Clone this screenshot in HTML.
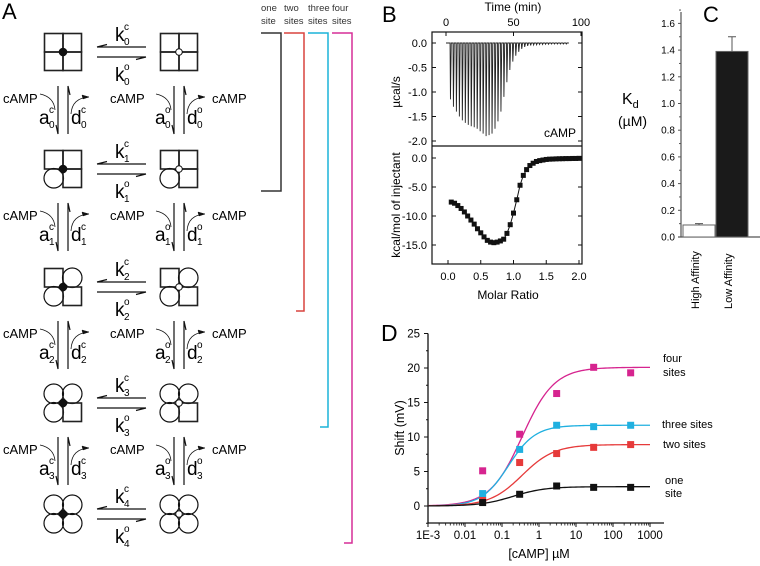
<!DOCTYPE html>
<html><head><meta charset="utf-8"><style>
html,body{margin:0;padding:0;background:#fff;}
svg{display:block;font-family:"Liberation Sans",sans-serif;}
</style></head><body>
<svg id="fig" width="760" height="566" viewBox="0 0 760 566">
<g id="A"></g>
<g id="B"></g>
<g id="C"></g>
<g id="D"></g>
</svg>
<script>
// ---------- data ----------
const itcPeakDepths = [-1.15,-1.3,-1.4,-1.5,-1.58,-1.63,-1.67,-1.7,-1.72,-1.75,-1.8,-1.85,-1.9,-1.88,-1.85,-1.75,-1.6,-1.4,-1.1,-0.8,-0.55,-0.38,-0.26,-0.18,-0.12,-0.08,-0.06,-0.05,-0.04,-0.035,-0.03,-0.03,-0.025,-0.025,-0.02,-0.02,-0.02,-0.02,-0.02,-0.02];
const itcPeakTimes = [3,5.2,7.4,9.6,11.8,14,16.2,18.4,20.6,22.8,25,27.2,29.4,31.6,33.8,36,38.2,40.4,42.6,44.8,47,49.2,51.4,53.6,55.8,58,60.2,62.4,64.6,66.8,69,71.2,73.4,75.6,77.8,80,82.2,84.4,86.6,88.8];
const itcRatio = [0.05,0.1,0.15,0.2,0.25,0.3,0.35,0.4,0.45,0.5,0.55,0.6,0.65,0.7,0.75,0.8,0.85,0.9,0.95,1.0,1.05,1.1,1.15,1.2,1.25,1.3,1.35,1.4,1.45,1.5,1.55,1.6,1.65,1.7,1.75,1.8,1.85,1.9,1.95,2.0];
const itcHeat = [-7.6,-7.8,-8.2,-8.7,-9.3,-10.0,-10.7,-11.4,-12.2,-12.9,-13.6,-14.2,-14.5,-14.6,-14.5,-14.3,-14.0,-13.0,-11.5,-9.5,-7.2,-4.7,-3.0,-2.0,-1.3,-0.9,-0.6,-0.45,-0.35,-0.25,-0.2,-0.18,-0.15,-0.13,-0.12,-0.1,-0.1,-0.08,-0.08,-0.06];
const kdCategories = ["High Affinity","Low Affinity"];
const kdValues = [0.09,1.39];
const kdErrors = [0.01,0.11];
const kdTicks = [0.0,0.2,0.4,0.6,0.8,1.0,1.2,1.4,1.6];
const doseConc = [0.03,0.3,3,30,300];
const seriesNames = ["four sites","three sites","two sites","one site"];
const fourSites = [5.1,10.4,16.3,20.1,19.3];
const threeSites = [1.8,8.2,11.7,11.5,11.7];
const twoSites = [0.8,6.3,7.6,8.5,8.9];
const oneSite = [0.5,1.7,2.9,2.7,2.7];
const fitMax = [20.1,11.7,8.9,2.8];
const fitEC50 = [0.35,0.15,0.35,0.2];
const fitHill = [1.0,1.2,1.0,1.0];
const seriesColors = ["#d6248f","#20b0e0","#e63a3a","#111"];
const dYTicks = [0,5,10,15,20,25];
const dXTickLabels = ["1E-3","0.01","0.1","1","10","100","1000"];

const NS="http://www.w3.org/2000/svg";
function el(parent,tag,attrs,text){const e=document.createElementNS(NS,tag);for(const k in attrs)e.setAttribute(k,attrs[k]);if(text!==undefined)e.textContent=text;parent.appendChild(e);return e;}

// ---------- Panel A ----------
const A=document.getElementById('A');
let t=el(A,'text',{x:2,y:19,'font-size':22},'A');


const rowsY=[52,169,287,403,514];
const pats=[[0,0,0,0],[0,0,1,0],[0,1,1,0],[1,1,1,0],[1,1,1,1]];
function state(cx,cy,pat,open,idx){
  const g=el(A,'g',{});
  
  
  const s=18.5;
  const q=[[-1,-1],[0,-1],[-1,0],[0,0]];
  q.forEach((d,i)=>{
    const x=cx+d[0]*s,y=cy+d[1]*s;
    if(pat[i]) el(g,'circle',{cx:x+s/2,cy:y+s/2,r:s/2+0.5,fill:'none',stroke:'#111','stroke-width':1.2});
    else el(g,'rect',{x:x,y:y,width:s,height:s,fill:'none',stroke:'#222','stroke-width':1.6});
  });
  el(g,'circle',{cx:cx,cy:cy,r:open?3.3:3.8,fill:open?'#fff':'#111',stroke:'#111','stroke-width':1});
}
function label(x,y,ch,sup,sub,name,w){
  const g=el(A,'g',{});
  
  
  el(g,'text',{x:x,y:y,'font-size':19},ch);
  el(g,'text',{x:x+w,y:y-11,'font-size':10},sup);
  el(g,'text',{x:x+w,y:y+4,'font-size':10},sub);
}
rowsY.forEach((cy,i)=>{
  state(63,cy,pats[i],false,i);
  state(179,cy,pats[i],true,i);
  const g=el(A,'g',{stroke:'#111','stroke-width':1.2,fill:'none'});
  
  
  el(g,'path',{d:`M97 ${cy-5}H146 M97 ${cy-5}l10 -2.5`});
  el(g,'path',{d:`M97 ${cy+5}H146 M146 ${cy+5}l-10 2.5`});
  label(115,cy-11,'k','c',i,'k-closed-'+i,9);
  label(115,cy+29,'k','o',i,'k-open-'+i,9);
  if(i<4){
    const gy=cy+58;
    [63,179].forEach((cx,j)=>{
      const vg=el(A,'g',{stroke:'#111','stroke-width':1.2,fill:'none'});
      
      
      el(vg,'path',{d:`M${cx-5} ${gy-24}V${gy+24} l-2 -9`});
      el(vg,'path',{d:`M${cx+5} ${gy+24}V${gy-24} l2 9`});
      el(vg,'path',{d:`M${cx-23} ${gy-16} Q${cx-9} ${gy-13} ${cx-8} ${gy}`,'stroke-width':0.8});
      el(vg,'path',{d:`M${cx+8} ${gy+4} Q${cx+9} ${gy-12} ${cx+26} ${gy-13}`,'stroke-width':0.8});
      el(vg,'path',{d:`M${cx+26} ${gy-13} l-7 -2 l1 4z`,fill:'#111','stroke-width':0.5});
      label(cx-24,gy+14,'a',j?'o':'c',i,'assoc-rate-'+(j?'open-':'closed-')+i,10);
      label(cx+8,gy+14,'d',j?'o':'c',i,'dissoc-rate-'+(j?'open-':'closed-')+i,10);
    });
    [[3,'camp-left'],[110,'camp-middle'],[212,'camp-right']].forEach(p=>{
      const c=el(A,'text',{x:p[0],y:gy-7,'font-size':13},'cAMP');
      
      
    });
  }
});
const br=[{x:261,x2:281,top:33,bot:191,c:'#333',l1:'one',l2:'site'},{x:284,x2:304,top:33,bot:311,c:'#d9433f',l1:'two',l2:'sites'},{x:308,x2:328,top:33,bot:427,c:'#1bb3d8',l1:'three',l2:'sites'},{x:332,x2:352,top:33,bot:543,c:'#d62e97',l1:'four',l2:'sites'}];
br.forEach((b,i)=>{
  const g=el(A,'g',{});
  
  
  el(g,'path',{d:i==0?`M${b.x} ${b.top}H${b.x2}V${b.bot}H${b.x}`:`M${b.x} ${b.top}H${b.x2}V${b.bot}H${b.x2-8}`,stroke:b.c,'stroke-width':1.5,fill:'none'});
  el(g,'text',{x:b.x,y:11,'font-size':9.5,fill:'#333'},b.l1);
  el(g,'text',{x:b.x,y:24,'font-size':9.5,fill:'#333'},b.l2);
});

// ---------- Panel B ----------
const B=document.getElementById('B');
const bx0=432,bx1=582,tTop=32,tMid=146,tBot=264;
const tx=v=>446+v*1.35, ty=v=>43-v*49;
const mx=v=>448+v*65.5, my=v=>158-v*5.8;
t=el(B,'text',{x:382,y:22,'font-size':22},'B');

t=el(B,'text',{x:513,y:11,'font-size':12,'text-anchor':'middle'},'Time (min)');

[0,50,100].forEach(v=>{el(B,'text',{x:tx(v),y:26,'font-size':11,'text-anchor':'middle'},v);el(B,'line',{x1:tx(v),x2:tx(v),y1:tTop,y2:tTop+4,stroke:'#111'});});
const frame=el(B,'rect',{x:bx0,y:tTop,width:bx1-bx0,height:tBot-tTop,fill:'none',stroke:'#111','stroke-width':1.2});

el(B,'line',{x1:bx0,x2:bx1,y1:tMid,y2:tMid,stroke:'#111','stroke-width':1.2});
[0,-0.5,-1,-1.5,-2].forEach(v=>{el(B,'text',{x:bx0-5,y:ty(v)+4,'font-size':11,'text-anchor':'end'},v.toFixed(1));el(B,'line',{x1:bx0,x2:bx0+4,y1:ty(v),y2:ty(v),stroke:'#111'});el(B,'line',{x1:bx1,x2:bx1-4,y1:ty(v),y2:ty(v),stroke:'#111'});});
[0,-5,-10,-15].forEach(v=>{el(B,'text',{x:bx0-5,y:my(v)+4,'font-size':11,'text-anchor':'end'},v.toFixed(1));el(B,'line',{x1:bx0,x2:bx0+4,y1:my(v),y2:my(v),stroke:'#111'});el(B,'line',{x1:bx1,x2:bx1-4,y1:my(v),y2:my(v),stroke:'#111'});});
[0,0.5,1,1.5,2].forEach(v=>{el(B,'text',{x:mx(v),y:tBot+16,'font-size':11,'text-anchor':'middle'},v.toFixed(1));el(B,'line',{x1:mx(v),x2:mx(v),y1:tBot,y2:tBot-4,stroke:'#111'});});
t=el(B,'text',{x:508,y:299,'font-size':12,'text-anchor':'middle'},'Molar Ratio');

t=el(B,'text',{x:0,y:0,'font-size':12,'text-anchor':'middle',transform:`translate(400,${ty(-1)}) rotate(-90)`},'µcal/s');

t=el(B,'text',{x:0,y:0,'font-size':12,'text-anchor':'middle',transform:`translate(400,205) rotate(-90)`},'kcal/mol of injectant');

t=el(B,'text',{x:576,y:137,'font-size':12,'text-anchor':'end'},'cAMP');

let d=`M${tx(0)} ${ty(0)}`;
itcPeakTimes.forEach((tm,i)=>{d+=`L${tx(tm)} ${ty(0)}L${tx(tm)+0.4} ${ty(itcPeakDepths[i])}L${tx(tm)+1.2} ${ty(0)}`;});
d+=`L${tx(91)} ${ty(0)}`;
t=el(B,'path',{d:d,fill:'none',stroke:'#222','stroke-width':0.9});

t=el(B,'polyline',{points:itcRatio.map((r,i)=>mx(r)+','+my(itcHeat[i])).join(' '),fill:'none',stroke:'#111','stroke-width':1});

itcRatio.forEach((r,i)=>{
  const p=el(B,'rect',{x:mx(r)-2.5,y:my(itcHeat[i])-2.5,width:5,height:5,fill:'#111'});
  
  
});

// ---------- Panel C ----------
const C=document.getElementById('C');
const cx0=681, cy=v=>237-v*133.5;
t=el(C,'text',{x:703,y:22,'font-size':22},'C');

el(C,'line',{x1:cx0,x2:cx0,y1:12,y2:237,stroke:'#555','stroke-width':1.2});
el(C,'line',{x1:cx0-3,x2:760,y1:237,y2:237,stroke:'#555','stroke-width':1.2});
kdTicks.forEach(v=>{el(C,'text',{x:cx0-6,y:cy(v)+3.5,'font-size':10,'text-anchor':'end'},v.toFixed(1));el(C,'line',{x1:cx0-3,x2:cx0,y1:cy(v),y2:cy(v),stroke:'#555'});el(C,'line',{x1:cx0-2,x2:cx0,y1:cy(v+0.1),y2:cy(v+0.1),stroke:'#555'});});
t=el(C,'text',{x:622,y:104,'font-size':16},'K');el(t,'tspan',{'font-size':11,dy:4},'d');

t=el(C,'text',{x:618,y:126,'font-size':14},'(µM)');

kdValues.forEach((v,i)=>{
  const x=683+i*33;
  const r=el(C,'rect',{x:x,y:cy(v),width:32,height:cy(0)-cy(v),fill:i?'#1a1a1a':'#fff',stroke:'#666','stroke-width':1});
  
  
  const e=el(C,'path',{d:`M${x+16} ${cy(v)}V${cy(v+kdErrors[i])}M${x+12} ${cy(v+kdErrors[i])}H${x+20}`,stroke:'#555',fill:'none'});
  
  
  const l=el(C,'text',{x:0,y:0,'font-size':11,transform:`translate(${x+16},${309}) rotate(-90)`},kdCategories[i]);
  
  
});

// ---------- Panel D ----------
const D=document.getElementById('D');
const dX=v=>428+(Math.log10(v)+3)*37, dY=v=>506-v*6.9;
t=el(D,'text',{x:381,y:341,'font-size':23},'D');

el(D,'line',{x1:428,x2:428,y1:dY(25),y2:523,stroke:'#111','stroke-width':1.3});
el(D,'line',{x1:428,x2:664,y1:523,y2:523,stroke:'#111','stroke-width':1.3});
dYTicks.forEach(v=>{el(D,'text',{x:420,y:dY(v)+4,'font-size':11.5,'text-anchor':'end'},v);el(D,'line',{x1:424,x2:428,y1:dY(v),y2:dY(v),stroke:'#111'});});
for(let v=-2.5;v<25;v+=2.5){if(v%5)el(D,'line',{x1:426,x2:428,y1:dY(v),y2:dY(v),stroke:'#111'});}
dXTickLabels.forEach((lab,i)=>{const x=428+i*37;el(D,'text',{x:x,y:539,'font-size':11.5,'text-anchor':'middle'},lab);el(D,'line',{x1:x,x2:x,y1:523,y2:527,stroke:'#111'});
  if(i<6)for(let m=2;m<10;m++){const xm=x+Math.log10(m)*37;el(D,'line',{x1:xm,x2:xm,y1:523,y2:525.5,stroke:'#111','stroke-width':0.8});}});
t=el(D,'text',{x:539,y:558,'font-size':12.5,'text-anchor':'middle'},'[cAMP] µM');

t=el(D,'text',{x:0,y:0,'font-size':12.5,'text-anchor':'middle',transform:`translate(404,428) rotate(-90)`},'Shift (mV)');

const allSeries=[fourSites,threeSites,twoSites,oneSite];
allSeries.forEach((vals,s)=>{
  let pts=[];
  for(let lx=-3;lx<=3.0001;lx+=0.05){const c=Math.pow(10,lx);const y=fitMax[s]/(1+Math.pow(fitEC50[s]/c,fitHill[s]));pts.push(dX(c)+','+dY(y));}
  const p=el(D,'polyline',{points:pts.join(' '),fill:'none',stroke:seriesColors[s],'stroke-width':1.3});
  
  
});
allSeries.forEach((vals,s)=>{
  vals.forEach((v,i)=>{
    const r=el(D,'rect',{x:dX(doseConc[i])-3.5,y:dY(v)-3.5,width:7,height:7,fill:seriesColors[s]});
    
    
  });
});
[[663,362,'four'],[663,376,'sites'],[662,428,'three sites'],[663,448,'two sites'],[665,484,'one'],[665,497,'site']].forEach((l,i)=>{
  const tt=el(D,'text',{x:l[0],y:l[1],'font-size':11},l[2]);
  
  
});
</script>
</body></html>
